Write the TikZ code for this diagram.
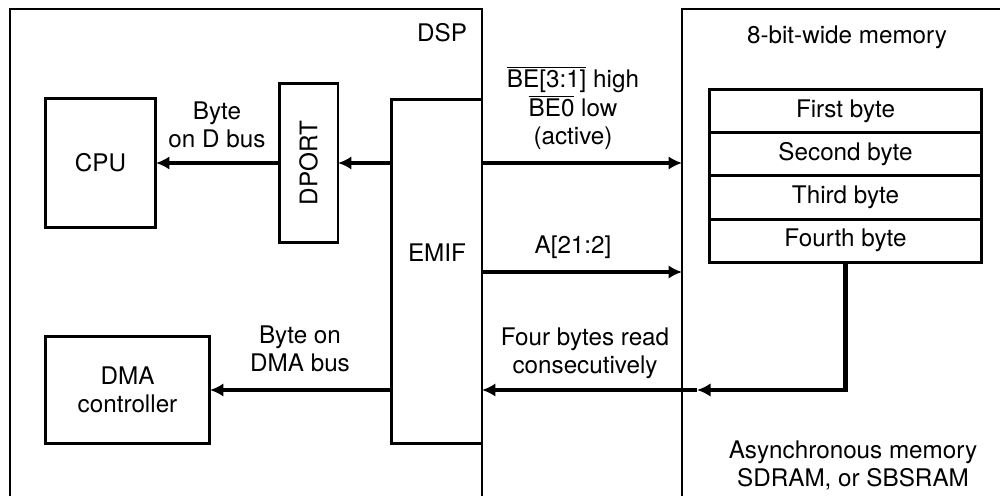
\documentclass[tikz,border=0pt]{standalone}
\usepackage{fontspec}
\setmainfont{TeX Gyre Heros}
\usetikzlibrary{positioning,arrows.meta}

\begin{document}
\begin{tikzpicture}[x=0.02cm,y=-0.02cm,
        font=\fontsize{13.8}{16}\selectfont,
        blk/.style={draw,line width=1.7pt,align=center,inner sep=0pt,outer sep=0pt},
        cell/.style={blk,minimum width=5.46cm,minimum height=0.865cm},
        bus/.style={line width=2.4pt,-{Latex[length=2.7mm,width=2.7mm]}},
        frame/.style={line width=1.1pt}]
        \useasboundingbox (0,0) rectangle (1000,496);
        % outer frames
        \draw[frame] (10,496) -- (10,9) -- (482,9) -- (482,496);
        \draw[frame] (682,496) -- (682,9) -- (1000,9);
        \node at (442,33) {DSP};
        \node at (847,37) {8-bit-wide memory};
        % DSP blocks
        \node[blk,minimum width=2.22cm,minimum height=2.58cm] (cpu) at (100.5,163) {CPU};
        \node[blk,minimum width=1.18cm,minimum height=3.2cm] (dport) at (308.5,163) {\rotatebox{90}{DPORT}};
        \node[blk,minimum width=1.82cm,minimum height=6.9cm] (emif) at (436.5,271.5) {};
        \node at (437,253) {EMIF};
        \node[blk,minimum width=3.3cm,minimum height=2.16cm] (dma) at (127.5,390) {DMA\\controller};
        % memory cells
        \node[cell] (first) at (845.5,111) {First byte};
        \node[cell,below=0pt of first] (second) {Second byte};
        \node[cell,below=0pt of second] (third) {Third byte};
        \node[cell,below=0pt of third] (fourth) {Fourth byte};
        \coordinate (be) at (682,163);
        \coordinate (addr) at (682,272);
        \coordinate (ret) at (697,390);
        % buses
        \draw[bus] (emif.west |- dport.east) -- (dport.east);
        \draw[bus] (dport.west) -- (cpu.east);
        \draw[bus] (emif.west |- dma.east) -- (dma.east);
        \draw[bus] (emif.east |- be) -- (be);
        \draw[bus] (emif.east |- addr) -- (addr);
        \draw[bus] (fourth.south) |- (ret);
        \draw[bus] (ret) -- (emif.east |- ret);
        % labels
        \node[align=center] at (217,125) {Byte\\on D bus};
        \node[align=center] at (300,349) {Byte on\\DMA bus};
        \node[align=center] at (573,108) {$\overline{\mbox{BE[3:1]}}$ high\\$\overline{\mbox{BE0}}$ low\\(active)};
        \node at (573,247) {A[21:2]};
        \node[align=center] at (585,353) {Four bytes read\\consecutively};
        \node[align=center] at (853,465) {Asynchronous memory\\SDRAM, or SBSRAM};
    \end{tikzpicture}
\end{document}
